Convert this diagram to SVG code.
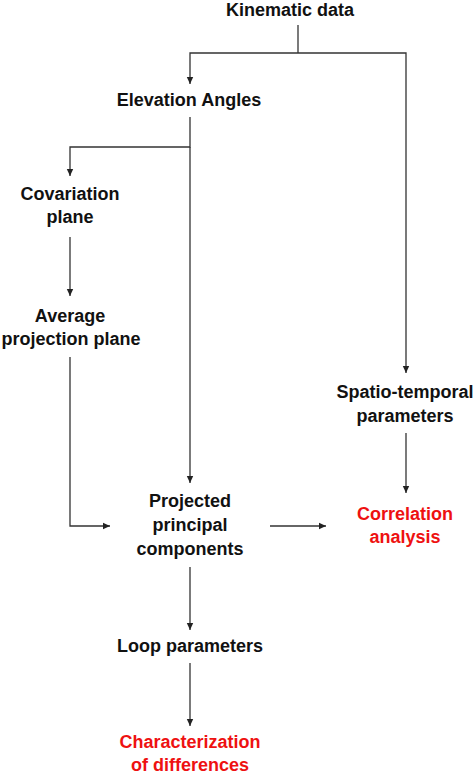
<svg xmlns="http://www.w3.org/2000/svg" width="474" height="774" viewBox="0 0 474 774">
<style>
.t{font-family:"Liberation Sans",Arial,sans-serif;font-weight:bold;font-size:18px;fill:#111;text-anchor:middle}
.r{fill:#ee1111}
.c{fill:none;stroke:#333;stroke-width:1.3}
</style>
<defs>
<marker id="a" markerWidth="8" markerHeight="8" refX="7" refY="4" orient="auto" markerUnits="userSpaceOnUse">
<path d="M0,0.8 L7,4 L0,7.2 Z" fill="#222"/>
</marker>
</defs>
<rect width="474" height="774" fill="#fff"/>
<g id="connectors">
<path class="c" d="M298,25 V53"/>
<path class="c" d="M298,53 H190 V84" marker-end="url(#a)"/>
<path class="c" d="M298,53 H406 V373" marker-end="url(#a)"/>
<path class="c" d="M190,117 V147 H70 V176" marker-end="url(#a)"/>
<path class="c" d="M190,147 V483" marker-end="url(#a)"/>
<path class="c" d="M70,237 V296" marker-end="url(#a)"/>
<path class="c" d="M70,357 V526 H110" marker-end="url(#a)"/>
<path class="c" d="M406,433 V493" marker-end="url(#a)"/>
<path class="c" d="M270,526 H326" marker-end="url(#a)"/>
<path class="c" d="M190,567 V630" marker-end="url(#a)"/>
<path class="c" d="M190,663 V726" marker-end="url(#a)"/>
</g>
<g id="kinematic"><text class="t" x="290" y="16">Kinematic data</text></g>
<g id="elevation"><text class="t" x="189" y="106">Elevation Angles</text></g>
<g id="covariation"><text class="t" x="70" y="200">Covariation</text><text class="t" x="70" y="223">plane</text></g>
<g id="average"><text class="t" x="70" y="322">Average</text><text class="t" x="71" y="345">projection plane</text></g>
<g id="spatio"><text class="t" x="405" y="398">Spatio-temporal</text><text class="t" x="405" y="422">parameters</text></g>
<g id="projected"><text class="t" x="190" y="507">Projected</text><text class="t" x="190" y="531">principal</text><text class="t" x="190" y="555">components</text></g>
<g id="correlation"><text class="t r" x="405" y="520">Correlation</text><text class="t r" x="405" y="543">analysis</text></g>
<g id="loop"><text class="t" x="190" y="652">Loop parameters</text></g>
<g id="characterization"><text class="t r" x="190" y="748">Characterization</text><text class="t r" x="190" y="771">of differences</text></g>
</svg>
